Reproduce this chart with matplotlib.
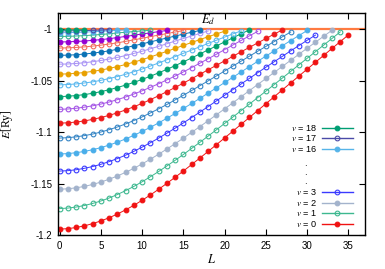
import matplotlib
matplotlib.use("Agg")
import matplotlib.pyplot as plt
import numpy as np

plt.rcParams['font.family'] = ['Liberation Sans', 'DejaVu Sans']
plt.rcParams['mathtext.fontset'] = 'stix'

# ---- data: E [Ry] for L = 0, 1, 2, ... per vibrational level v ----
E_v0 = [-1.1943, -1.1938, -1.1927, -1.1911, -1.1889, -1.1863, -1.1832, -1.1796, -1.1755, -1.1711,
        -1.1662, -1.1610, -1.1555, -1.1497, -1.1438, -1.1377, -1.1314, -1.1251, -1.1186, -1.1121,
        -1.1055, -1.0989, -1.0922, -1.0856, -1.0789, -1.0722, -1.0655, -1.0587, -1.0520, -1.0453,
        -1.0386, -1.0319, -1.0252, -1.0185, -1.0119, -1.0052]
E_v1 = [-1.1743, -1.1738, -1.1728, -1.1713, -1.1693, -1.1669, -1.1640, -1.1606, -1.1568, -1.1527,
        -1.1482, -1.1433, -1.1382, -1.1328, -1.1273, -1.1216, -1.1157, -1.1098, -1.1037, -1.0976,
        -1.0914, -1.0852, -1.0789, -1.0726, -1.0663, -1.0600, -1.0536, -1.0472, -1.0408, -1.0344,
        -1.0280, -1.0216, -1.0152, -1.0088, -1.0024]
E_v2 = [-1.1555, -1.1550, -1.1541, -1.1527, -1.1508, -1.1485, -1.1457, -1.1426, -1.1390, -1.1351,
        -1.1308, -1.1262, -1.1214, -1.1163, -1.1111, -1.1057, -1.1001, -1.0945, -1.0888, -1.0830,
        -1.0772, -1.0713, -1.0654, -1.0595, -1.0536, -1.0477, -1.0418, -1.0359, -1.0300, -1.0241,
        -1.0182, -1.0124, -1.0066, -1.0008]
E_v3 = [-1.1378, -1.1374, -1.1365, -1.1351, -1.1334, -1.1312, -1.1286, -1.1256, -1.1223, -1.1186,
        -1.1145, -1.1102, -1.1057, -1.1009, -1.0960, -1.0909, -1.0857, -1.0804, -1.0750, -1.0695,
        -1.0640, -1.0585, -1.0530, -1.0476, -1.0421, -1.0367, -1.0314, -1.0261, -1.0208, -1.0157,
        -1.0105, -1.0055]
E_v4 = [-1.1212, -1.1208, -1.1199, -1.1187, -1.1170, -1.1150, -1.1125, -1.1097, -1.1065, -1.1030,
        -1.0992, -1.0952, -1.0909, -1.0864, -1.0817, -1.0769, -1.0720, -1.0670, -1.0619, -1.0568,
        -1.0516, -1.0465, -1.0413, -1.0362, -1.0310, -1.0259, -1.0209, -1.0158, -1.0108, -1.0059,
        -1.0010]
E_v5 = [-1.1057, -1.1053, -1.1045, -1.1033, -1.1018, -1.0998, -1.0975, -1.0949, -1.0919, -1.0886,
        -1.0851, -1.0812, -1.0772, -1.0730, -1.0685, -1.0640, -1.0594, -1.0547, -1.0500, -1.0452,
        -1.0404, -1.0356, -1.0308, -1.0260, -1.0212, -1.0165, -1.0118, -1.0071, -1.0025]
E_v6 = [-1.0912, -1.0908, -1.0901, -1.0890, -1.0875, -1.0857, -1.0836, -1.0811, -1.0783, -1.0752,
        -1.0719, -1.0683, -1.0645, -1.0605, -1.0564, -1.0522, -1.0479, -1.0436, -1.0392, -1.0349,
        -1.0305, -1.0261, -1.0217, -1.0174, -1.0131, -1.0088, -1.0045, -1.0004]
E_v7 = [-1.0777, -1.0774, -1.0767, -1.0756, -1.0743, -1.0726, -1.0706, -1.0683, -1.0657, -1.0628,
        -1.0597, -1.0563, -1.0528, -1.0491, -1.0453, -1.0413, -1.0371, -1.0328, -1.0285, -1.0241,
        -1.0196, -1.0151, -1.0107, -1.0062, -1.0019]
E_v8 = [-1.0653, -1.0650, -1.0643, -1.0634, -1.0621, -1.0605, -1.0587, -1.0565, -1.0541, -1.0515,
        -1.0486, -1.0455, -1.0422, -1.0388, -1.0352, -1.0315, -1.0277, -1.0238, -1.0199, -1.0160,
        -1.0121, -1.0081, -1.0042, -1.0004]
E_v9 = [-1.0539, -1.0536, -1.0530, -1.0521, -1.0510, -1.0495, -1.0478, -1.0458, -1.0436, -1.0411,
        -1.0385, -1.0356, -1.0326, -1.0295, -1.0264, -1.0232, -1.0200, -1.0168, -1.0136, -1.0105,
        -1.0074, -1.0043, -1.0014]
E_v10 = [-1.0435, -1.0432, -1.0427, -1.0419, -1.0408, -1.0395, -1.0379, -1.0361, -1.0341, -1.0318,
         -1.0294, -1.0268, -1.0240, -1.0213, -1.0184, -1.0155, -1.0127, -1.0098, -1.0071, -1.0044,
         -1.0017]
E_v11 = [-1.0338, -1.0336, -1.0331, -1.0324, -1.0314, -1.0302, -1.0288, -1.0272, -1.0254, -1.0233,
         -1.0212, -1.0188, -1.0164, -1.0139, -1.0113, -1.0088, -1.0063, -1.0039, -1.0015]
E_v12 = [-1.0252, -1.0250, -1.0246, -1.0239, -1.0231, -1.0220, -1.0208, -1.0193, -1.0177, -1.0159,
         -1.0140, -1.0121, -1.0102, -1.0083, -1.0064, -1.0045, -1.0027, -1.0010]
E_v13 = [-1.0181, -1.0179, -1.0175, -1.0170, -1.0162, -1.0153, -1.0142, -1.0130, -1.0116, -1.0101,
         -1.0086, -1.0070, -1.0055, -1.0040, -1.0025, -1.0011]
E_v14 = [-1.0122, -1.0120, -1.0117, -1.0113, -1.0106, -1.0099, -1.0090, -1.0079, -1.0068, -1.0056,
         -1.0044, -1.0033, -1.0021, -1.0010]
E_v15 = [-1.0068, -1.0067, -1.0064, -1.0060, -1.0055, -1.0049, -1.0042, -1.0034, -1.0027, -1.0021,
         -1.0014, -1.0008]
E_v16 = [-1.0032, -1.0031, -1.0029, -1.0026, -1.0022, -1.0018, -1.0013, -1.0009, -1.0004]
E_v17 = [-1.0014, -1.0014, -1.0013, -1.0011, -1.0009, -1.0006, -1.0003]
E_v18 = [-1.0005, -1.0005, -1.0004, -1.0003]

E_d = -1.0

x_ticks = [0, 5, 10, 15, 20, 25, 30, 35]
y_ticks = [-1.2, -1.15, -1.1, -1.05, -1.0]
y_tick_labels = ['-1.2', '-1.15', '-1.1', '-1.05', '-1']

legend_levels = [18, 17, 16, 3, 2, 1, 0]

# ---- styles ----
energies = [E_v0, E_v1, E_v2, E_v3, E_v4, E_v5, E_v6, E_v7, E_v8, E_v9,
            E_v10, E_v11, E_v12, E_v13, E_v14, E_v15, E_v16, E_v17, E_v18]
colors = ['#f01212', '#3db88f', '#a3b3cc', '#3a3aff', '#4aaeea', '#3484c4', '#ee1c1c',
          '#a455e6', '#00a070', '#5ab8ee', '#e8a000', '#a994f5', '#0a72b5', '#f26a5a',
          '#9400d3', '#35b38e', '#56b4e9', '#4a4aa8', '#009e73']
filled = [v % 2 == 0 for v in range(len(energies))]

fig = plt.figure(figsize=(3.85, 2.69), dpi=100)
ax = fig.add_axes([58 / 385, 1 - 235 / 269, 307 / 385, 222 / 269])

ax.axhline(E_d, color='#ff7a40', lw=1.6, zorder=1)

for v, E in enumerate(energies):
    L = np.arange(len(E))
    c = colors[v]
    ax.plot(L, E, '-', color=c, lw=0.7, marker='o', ms=3.4,
            mfc=c if filled[v] else 'none', mec=c, mew=0.8, zorder=2)

ax.set_xlim(-0.2, 37)
ax.set_ylim(-1.2, -0.984)
ax.set_xticks(x_ticks)
ax.set_yticks(y_ticks)
ax.set_yticklabels(y_tick_labels)
ax.tick_params(direction='in', top=True, right=True, length=4, width=0.8,
               labelsize=7, pad=4)
for s in ax.spines.values():
    s.set_linewidth(1.0)

ax.set_xlabel('$L$', fontsize=9, labelpad=2)
ax.set_ylabel('$E$[Ry]', fontsize=8.5, family=['Liberation Serif', 'DejaVu Serif'])
ax.yaxis.set_label_coords(-0.14, 0.5)

ax.text(18.0, -0.9905, '$E_d$', ha='center', va='center', fontsize=9)

# ---- legend (drawn manually, right-aligned labels like gnuplot) ----
rows = [0.4833, 0.4356, 0.386, 0.1923, 0.1428, 0.0977, 0.0482]
for lev, y in zip(legend_levels, rows):
    c = colors[lev]
    ax.text(0.8436, y, '$v$ = %d' % lev, transform=ax.transAxes,
            ha='right', va='center', fontsize=6.6)
    ax.plot([0.86, 0.961], [y, y], transform=ax.transAxes, color=c, lw=1.0,
            clip_on=False)
    ax.plot([0.91], [y], transform=ax.transAxes, marker='o', ms=3.4,
            mfc=c if filled[lev] else 'none', mec=c, mew=0.8, clip_on=False)
for y in [0.323, 0.2824, 0.2432]:
    ax.text(0.807, y, '.', transform=ax.transAxes, ha='center', va='center', fontsize=7)

fig.savefig('out.png', dpi=100)
